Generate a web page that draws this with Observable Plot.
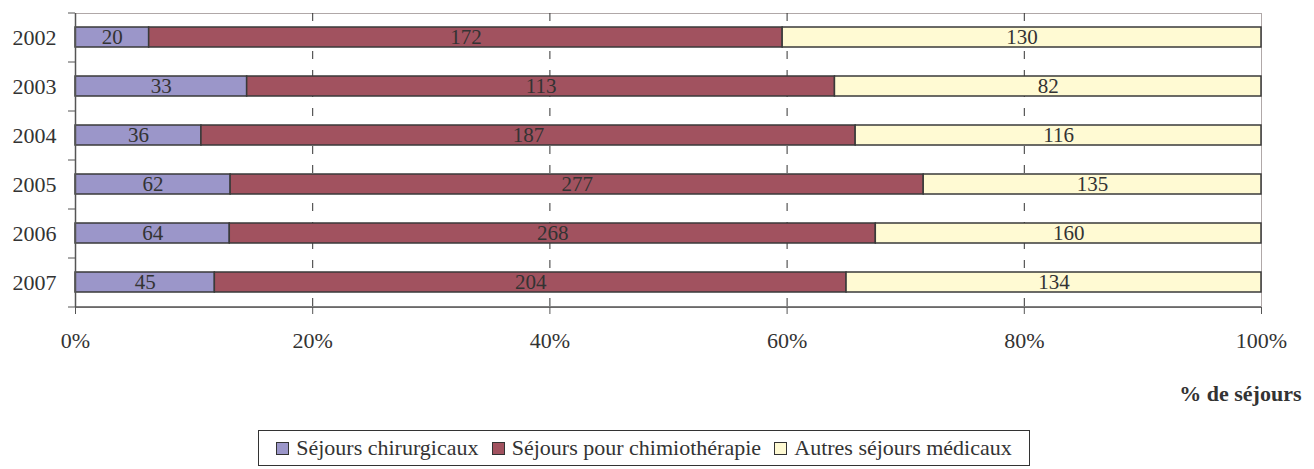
<!DOCTYPE html>
<html><head><meta charset="utf-8">
<script src="https://cdn.jsdelivr.net/npm/d3@7"></script>
<script src="https://cdn.jsdelivr.net/npm/@observablehq/plot@0.6"></script>
<style>
body{margin:0;background:#fff;font-family:"Liberation Serif",serif;color:#333}
#legend{margin:10px 0 0 258px;width:772px;height:36px;border:1px solid #333;display:flex;align-items:center;justify-content:space-evenly;font-family:"Liberation Serif","Times New Roman",serif;font-size:22px;color:#333;box-sizing:border-box;padding:0 4px}
#legend .item{display:flex;align-items:center;gap:7px;font-family:"Liberation Serif",serif}
#legend .sw{width:13px;height:13px;border:1px solid #333;box-sizing:border-box}
</style></head>
<body><div id="chart"></div><div id="legend"></div>
<script>
const years = ["2002","2003","2004","2005","2006","2007"];
const categories = ["Séjours chirurgicaux","Séjours pour chimiothérapie","Autres séjours médicaux"];
const chirurgicaux = [20,33,36,62,64,45];
const chimiotherapie = [172,113,187,277,268,204];
const autres = [130,82,116,135,160,134];
const colors = ["#9b96c9","#a1525f","#fffad3"];
const xTicks = [0,20,40,60,80,100];
const gridTicks = [20,40,60,80];
const xLabel = "% de séjours";

const series = [chirurgicaux, chimiotherapie, autres];
const data = [];
years.forEach((y,i)=>categories.forEach((c,j)=>data.push({year:y, category:c, value:series[j][i]})));

const W=1314, H=420, mt=13, mb=113, ml=75, mr=53;
const step=(H-mt-mb)/years.length;

const chart = Plot.plot({
  width:W, height:H, marginTop:mt, marginBottom:mb, marginLeft:ml, marginRight:mr,
  style:{fontFamily:"Liberation Serif, serif", color:"#333", background:"#fff"},
  x:{domain:[0,1], axis:null},
  y:{domain:years, paddingInner:0.59, paddingOuter:0.295, axis:null},
  color:{domain:categories, range:colors},
  marks:[
    Plot.frame({stroke:"#b0a8a8"}),
    Plot.ruleX(gridTicks.map(d=>d/100), {stroke:"#333", strokeDasharray:"8,11"}),
    Plot.barX(data, {x:"value", y:"year", fill:"category", offset:"normalize", stroke:"#3a3a3a", strokeWidth:1.5}),
    Plot.text(data, Plot.stackX({x:"value", y:"year", z:"category", offset:"normalize", text:"value", fill:"#333", fontSize:21})),
    Plot.ruleX([0], {stroke:"#555", strokeWidth:1.5}),
    Plot.ruleY([years[years.length-1]], {dy:step/2, stroke:"#555", strokeWidth:1.5}),
    Plot.ruleY(years, {x1:0, x2:0, insetLeft:-7, dy:-step/2, stroke:"#555"}),
    Plot.ruleY([years[years.length-1]], {x1:0, x2:0, insetLeft:-7, dy:step/2, stroke:"#555"}),
    Plot.axisY({tickSize:0, tickPadding:19, fontSize:22, label:null}),
    Plot.axisX({ticks:xTicks.map(d=>d/100), tickFormat:d=>Math.round(d*100)+"%", tickSize:7, tickPadding:18, fontSize:22, stroke:"#555", label:null}),
    Plot.text([xLabel], {frameAnchor:"bottom-right", text:d=>d, dx:40, dy:86, lineAnchor:"middle", textAnchor:"end", fontWeight:"bold", fontSize:22, fill:"#333"})
  ]
});
document.getElementById("chart").appendChild(chart);

const legend = document.getElementById("legend");
categories.forEach((c,i)=>{
  const it=document.createElement("div"); it.className="item";
  const sw=document.createElement("div"); sw.className="sw"; sw.style.background=colors[i];
  const t=document.createElement("span"); t.textContent=c;
  it.appendChild(sw); it.appendChild(t); legend.appendChild(it);
});
</script>
</body></html>
